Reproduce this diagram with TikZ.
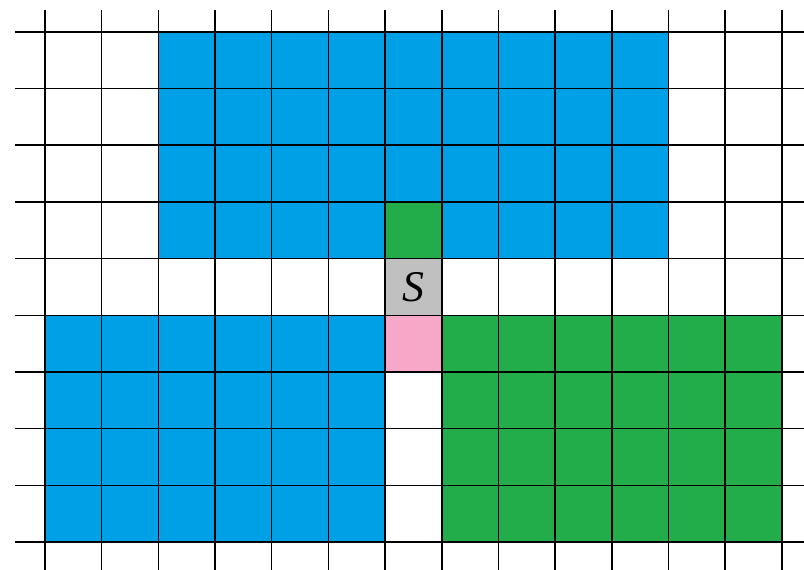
\documentclass[tikz,border=0pt]{standalone}
\usepackage{fontspec}
\setmainfont{Liberation Serif}
\definecolor{cblue}{RGB}{0,160,230}
\definecolor{cgreen}{RGB}{34,173,74}
\definecolor{cgray}{RGB}{192,192,192}
\definecolor{cpink}{RGB}{247,168,200}
\begin{document}
\begin{tikzpicture}[x=1cm,y=1cm,
  gridline/.style={black,line width=0.75pt},
  fillblue/.style={fill=cblue},
  fillgreen/.style={fill=cgreen}]
\useasboundingbox (-0.794,-0.494) rectangle (13.391,9.562);
% coloured regions
\fill[fillblue] (2,5) rectangle (11,9);
\fill[fillgreen] (6,5) rectangle (7,6);
\fill[cgray] (6,4) rectangle (7,5);
\fill[cpink] (6,3) rectangle (7,4);
\fill[fillblue] (0,0) rectangle (6,4);
\fill[fillgreen] (7,0) rectangle (13,4);
% grid
\foreach \i in {0,...,13} \draw[gridline] (\i,-0.494) -- (\i,9.386);
\foreach \j in {0,...,9} \draw[gridline] (-0.529,\j) -- (13.391,\j);
\node (s) at (6.5,4.5) {\fontsize{22}{24}\selectfont\textit{S}};
\end{tikzpicture}
\end{document}
